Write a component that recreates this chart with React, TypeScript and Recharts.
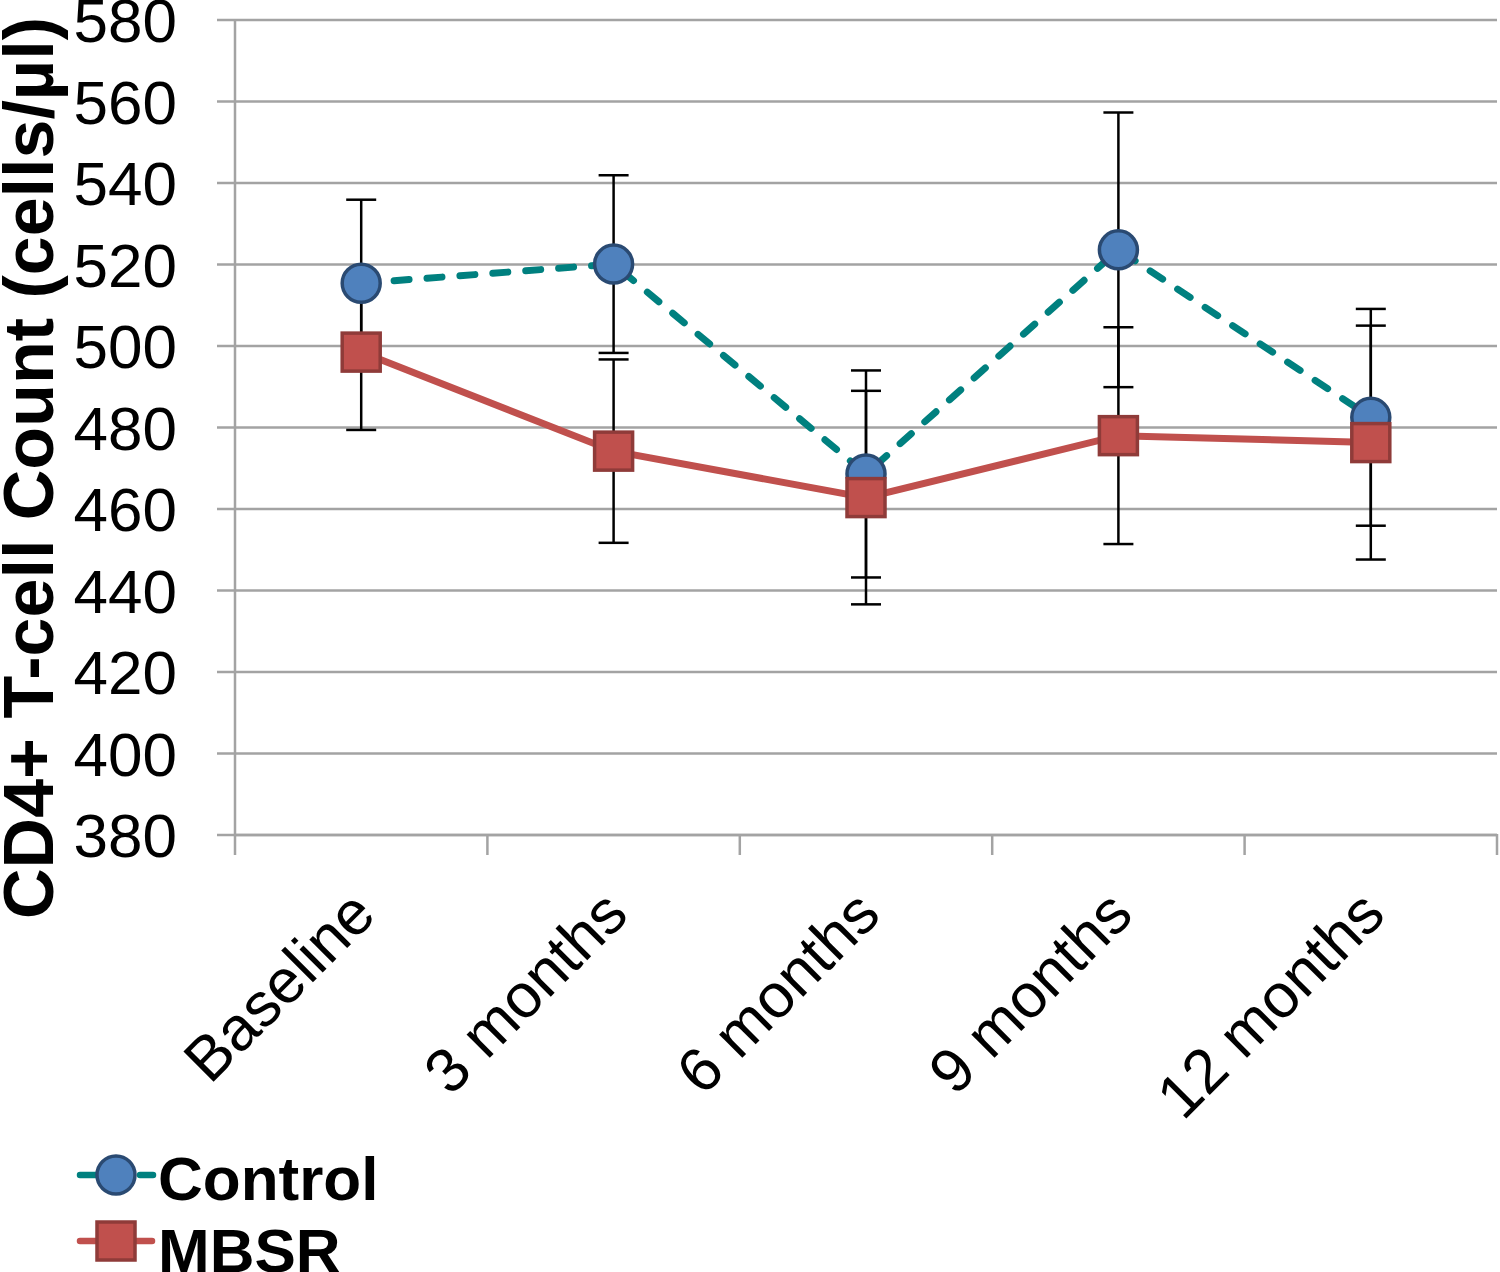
import { LineChart, Line, XAxis, YAxis, CartesianGrid, ErrorBar, Legend } from "recharts"

const categories = ["Baseline", "3 months", "6 months", "9 months", "12 months"]
const controlMeans = [515.4, 520.1, 468.6, 523.6, 482.5]
const controlErrors = [20.5, 21.8, 25.4, 33.7, 26.6]
const mbsrMeans = [498.5, 474.2, 462.8, 478.0, 476.3]
const mbsrErrors = [19.1, 22.5, 26.2, 26.6, 28.7]
const yTicks = [380, 400, 420, 440, 460, 480, 500, 520, 540, 560, 580]

const data = categories.map((name, i) => ({
  name,
  control: controlMeans[i],
  controlErr: controlErrors[i],
  mbsr: mbsrMeans[i],
  mbsrErr: mbsrErrors[i],
}))

const FONT = "'Liberation Sans', Arial, sans-serif"
const GRID = "#a3a3a3"
const TEAL = "#00807f"
const BLUE = "#4f81bd"
const BLUE_EDGE = "#2a4a72"
const RED = "#c0504d"
const RED_EDGE = "#8f3b39"

// plot spans 235..1497, five equal category bands
const PLOT_W = 1262
const BAND = PLOT_W / categories.length

function CircleDot(props: any) {
  const { cx, cy, index } = props
  if (cx == null || cy == null) return <g key={index} />
  return <circle key={index} cx={cx} cy={cy} r={19} fill={BLUE} stroke={BLUE_EDGE} strokeWidth={3.5} />
}

function SquareDot(props: any) {
  const { cx, cy, index } = props
  if (cx == null || cy == null) return <g key={index} />
  return <rect key={index} x={cx - 19} y={cy - 19} width={38} height={38} fill={RED} stroke={RED_EDGE} strokeWidth={3.5} />
}

function XTick(props: any) {
  const { x, y, payload, index } = props
  const tx = x + 17
  const ty = y + 82
  return (
    <g>
      <line x1={x - BAND / 2} y1={y} x2={x - BAND / 2} y2={y + 20} stroke={GRID} strokeWidth={2.5} />
      {index === categories.length - 1 && (
        <line x1={x + BAND / 2} y1={y - 1} x2={x + BAND / 2} y2={y + 20} stroke={GRID} strokeWidth={2.5} />
      )}
      <text x={tx} y={ty} transform={`rotate(-45, ${tx}, ${ty})`} textAnchor="end" fontSize={62} fill="#000" fontFamily={FONT}>
        {payload.value}
      </text>
    </g>
  )
}

function YLabel() {
  return (
    <text
      x={53}
      y={468}
      transform="rotate(-90, 53, 468)"
      textAnchor="middle"
      fontSize={70}
      fontWeight="bold"
      fill="#000"
      fontFamily={FONT}
    >
      CD4+ T-cell Count (cells/µl)
    </text>
  )
}

function LegendBox() {
  return (
    <svg width={400} height={137} style={{ display: "block" }}>
      <line x1={80} y1={40} x2={153} y2={40} stroke={TEAL} strokeWidth={6.5} strokeDasharray="16 14" strokeLinecap="round" />
      <circle cx={116} cy={40} r={19} fill={BLUE} stroke={BLUE_EDGE} strokeWidth={3.5} />
      <text x={158} y={65} fontSize={62} fontWeight="bold" fontFamily={FONT} fill="#000">Control</text>
      <line x1={80} y1={106} x2={152} y2={106} stroke={RED} strokeWidth={6.5} strokeLinecap="round" />
      <rect x={97} y={87} width={38} height={38} fill={RED} stroke={RED_EDGE} strokeWidth={3.5} />
      <text x={158} y={137} fontSize={62} fontWeight="bold" fontFamily={FONT} fill="#000">MBSR</text>
    </svg>
  )
}

export default function App() {
  return (
    <div style={{ position: "absolute", left: 0, top: 0, fontFamily: FONT, background: "#fff" }}>
      <LineChart width={1500} height={1272} data={data} margin={{ top: 20, right: 3, left: 0, bottom: 0 }}>
        <CartesianGrid vertical={false} stroke={GRID} strokeWidth={2.5} />
        <XAxis
          dataKey="name"
          height={300}
          padding={{ left: BAND / 2, right: BAND / 2 }}
          axisLine={{ stroke: GRID, strokeWidth: 2.5 }}
          tickLine={false}
          tickSize={0}
          tickMargin={0}
          interval={0}
          tick={<XTick />}
        />
        <YAxis
          domain={[380, 580]}
          ticks={yTicks}
          interval={0}
          width={235}
          axisLine={{ stroke: GRID, strokeWidth: 2.5 }}
          tickLine={{ stroke: GRID, strokeWidth: 2.5 }}
          tickSize={18}
          tickMargin={40}
          tick={{ fontSize: 62, fill: "#000", fontFamily: FONT }}
          label={{ content: () => <YLabel /> }}
        />
        <Legend
          verticalAlign="bottom"
          align="left"
          layout="horizontal"
          content={() => <LegendBox />}
          wrapperStyle={{ left: 0, bottom: 0, width: 400, height: 137 }}
        />
        <Line dataKey="control" stroke="none" dot={false} activeDot={false} legendType="none" isAnimationActive={false}>
          <ErrorBar dataKey="controlErr" width={15} stroke="#000" strokeWidth={2.5} direction="y" />
        </Line>
        <Line dataKey="mbsr" stroke="none" dot={false} activeDot={false} legendType="none" isAnimationActive={false}>
          <ErrorBar dataKey="mbsrErr" width={15} stroke="#000" strokeWidth={2.5} direction="y" />
        </Line>
        <Line
          dataKey="control"
          type="linear"
          stroke={TEAL}
          strokeWidth={7}
          strokeDasharray="15 18"
          strokeLinecap="round"
          dot={<CircleDot />}
          activeDot={false}
          isAnimationActive={false}
        />
        <Line
          dataKey="mbsr"
          type="linear"
          stroke={RED}
          strokeWidth={7}
          dot={<SquareDot />}
          activeDot={false}
          isAnimationActive={false}
        />
      </LineChart>
    </div>
  )
}
